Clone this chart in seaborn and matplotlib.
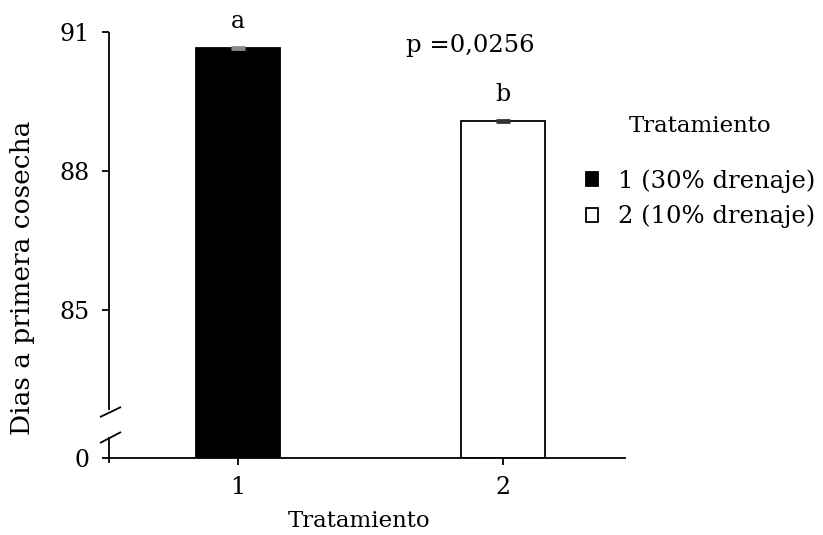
import numpy as np
import pandas as pd
import matplotlib
matplotlib.use("Agg")
import matplotlib.pyplot as plt
import seaborn as sns

# ---- data ----
categories = ["1", "2"]
dias = [90.65, 89.08]
se = [0.02, 0.02]
letters = ["a", "b"]
legend_labels = ["1 (30% drenaje)", "2 (10% drenaje)"]
bar_colors = ["#000000", "#ffffff"]
err_colors = ["#8a8a8a", "#333333"]
yticks = [0, 85, 88, 91]
p_text = "p =0,0256"

sns.set_theme(style="white")
plt.rcParams["font.family"] = ["DejaVu Serif", "DejaVu Sans"]
plt.rcParams["text.color"] = "black"
FS = 17

df = pd.DataFrame({"Tratamiento": categories, "Dias": dias})

fig = plt.figure(figsize=(8.23, 5.35), dpi=100)
ax = fig.add_axes([109 / 823, 77 / 535, 516 / 823, 426 / 535])

sns.barplot(data=df, x="Tratamiento", y="Dias", hue="Tratamiento",
            palette=bar_colors, width=0.315, edgecolor="black",
            linewidth=1.3, errorbar=None, legend=True, ax=ax)

# broken y scale: compress 0..YB into a small strip
YB, D = 82.5, 0.7
def fwd(y):
    y = np.asarray(y, dtype=float)
    return np.where(y >= YB, y, YB - D + y / YB * D)
def inv(t):
    t = np.asarray(t, dtype=float)
    return np.where(t >= YB, t, (t - (YB - D)) / D * YB)
ax.set_yscale("function", functions=(fwd, inv))
ax.set_ylim(0, 91)
ax.set_xlim(-0.4868, 1.4604)
ax.set_yticks(yticks)
ax.set_yticklabels([str(v) for v in yticks])

xpos = np.arange(len(categories))
for i in range(len(categories)):
    ax.errorbar(xpos[i], dias[i], yerr=se[i], fmt="none", ecolor=err_colors[i],
                elinewidth=1.5, capsize=5, capthick=2, zorder=5)
    ax.annotate(letters[i], (xpos[i], dias[i]), xytext=(0, 14.5),
                textcoords="offset points", ha="center", va="baseline",
                fontsize=FS)

ax.text(0.6996, 0.953, p_text, transform=ax.transAxes, ha="center",
        va="baseline", fontsize=17.5)

# spines
for s in ["top", "right", "left"]:
    ax.spines[s].set_visible(False)
ax.spines["bottom"].set_linewidth(1.3)
ax.spines["bottom"].set_color("black")
lk = dict(color="black", lw=1.3, transform=ax.transAxes, clip_on=False,
          solid_capstyle="butt")
ax.plot([0, 0], [0.1127, 1.0], **lk)
ax.plot([0, 0], [-0.012, 0.049], **lk)
ax.plot([-0.0174, 0.0233], [0.0962, 0.1197], **lk)
ax.plot([-0.0174, 0.0233], [0.0352, 0.061], **lk)

ax.tick_params(axis="both", direction="out", length=5, width=1.3,
               color="black", labelsize=FS, labelcolor="black")
ax.tick_params(axis="y", left=True, pad=9)
ax.tick_params(axis="x", bottom=True, pad=8)

ax.set_xlabel("Tratamiento", fontsize=16.5, color="black")
ax.set_ylabel("Dias a primera cosecha", fontsize=19, color="black")
ax.xaxis.set_label_coords(0.4845, -0.122)
ax.yaxis.set_label_coords(-0.1434, 0.4225)

handles, _ = ax.get_legend_handles_labels()
leg = ax.legend(handles, legend_labels, title="Tratamiento", loc="upper left",
                bbox_to_anchor=(0.9244, 0.805), frameon=False, fontsize=17.5,
                title_fontsize=16.5, handlelength=0.5, handleheight=0.5,
                handletextpad=0.8, labelspacing=0.5, borderpad=0,
                borderaxespad=0)
leg._legend_box.sep = 23

fig.savefig("out.png", dpi=100)
